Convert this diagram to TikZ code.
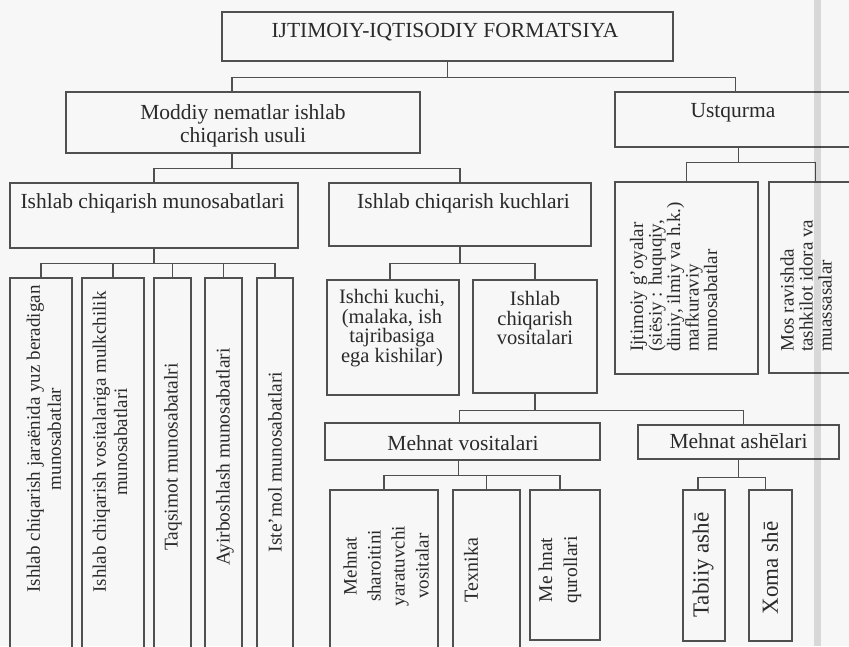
\documentclass[tikz,border=0pt]{standalone}
\usepackage{fontspec}
\setmainfont{Liberation Serif}
\definecolor{ink}{HTML}{2A2A2A}
\definecolor{rule}{HTML}{505050}
\definecolor{paper}{HTML}{F7F7F7}
% box given by its corners (x1,y1) and (x2,y2), in pixel-like units
\newcommand\mkbox[5]{\node[box, minimum width={(#4-#2)*1pt}, minimum height={(#5-#3)*1pt}] (#1) at ({(#2+#4)/2},{(#3+#5)/2}) {};}
\begin{document}
\begin{tikzpicture}[x=1pt,y=-1pt,
  box/.style={draw=rule, line width=1.2pt, inner sep=0pt, rectangle},
  ln/.style={draw=rule, line width=1.1pt},
  txt/.style={text=ink, inner sep=0pt, font=\fontsize{21.5}{23}\selectfont},
  rtxt/.style={txt, rotate=90},
]
\fill[paper] (0,0) rectangle (849,646);
\useasboundingbox (0,0) rectangle (849,646);

% boxes
\mkbox{top}{222}{12}{673}{61}
\mkbox{moddiy}{66}{92}{420}{153}
\mkbox{ustq}{615}{92}{870}{147}
\mkbox{mun}{10}{183}{298}{248}
\mkbox{kuch}{329}{183}{591}{246}
\mkbox{la}{10}{278}{72}{660}
\mkbox{lb}{82}{278}{144}{660}
\mkbox{lc}{154}{278}{191}{660}
\mkbox{ld}{205}{278}{242}{660}
\mkbox{le}{257}{278}{293}{660}
\mkbox{ishchi}{327}{280}{459}{395}
\mkbox{vos}{473}{280}{597}{393}
\mkbox{ga}{615}{182}{758}{374}
\mkbox{gb}{769}{182}{870}{373}
\mkbox{mv}{325}{423}{600}{460}
\mkbox{ma}{638}{425}{839}{459}
\mkbox{ba}{330}{490}{438}{660}
\mkbox{bb}{453}{490}{520}{660}
\mkbox{bc}{530}{490}{600}{640}
\mkbox{ta}{683}{490}{725}{641}
\mkbox{tb}{749}{490}{792}{641}

% connectors
\draw[ln] (top.south) -- ++(0,16) coordinate (jA);
\draw[ln] ([xshift=-11pt]moddiy.north) |- (jA) -| ([xshift=-7pt]ustq.north);
\draw[ln] ([xshift=-11pt]moddiy.south) -- ++(0,15) coordinate (jB);
\draw[ln] (mun.north) |- (jB) -| (kuch.north);
\draw[ln] (mun.south) -- ++(0,15) coordinate (jC);
\draw[ln] (la.north) |- (jC) -| (le.north);
\draw[ln] (lb.north) -- (lb.north |- jC);
\draw[ln] (lc.north) -- (lc.north |- jC);
\draw[ln] (ld.north) -- (ld.north |- jC);
\draw[ln] (kuch.south) -- ++(0,17) coordinate (jD);
\draw[ln] ([xshift=-3pt]ishchi.north) |- (jD) -| (vos.north);
\draw[ln] (vos.south) -- ++(0,17) coordinate (jE);
\draw[ln] ([xshift=-3pt]mv.north) |- (jE) -| ([xshift=5pt]ma.north);
\draw[ln] ([xshift=-4pt]mv.south) -- ++(0,15) coordinate (jF);
\draw[ln] (ba.north) |- (jF) -| ([xshift=-5pt]bc.north);
\draw[ln] (bb.north) -- (bb.north |- jF);
\draw[ln] (ma.south) -- ++(0,18) coordinate (jG);
\draw[ln] ([xshift=-6pt]ta.north) |- (jG) -| ([xshift=-5pt]tb.north);
\draw[ln] ([xshift=-4pt]ustq.south) -- ++(0,15) coordinate (jH);
\draw[ln] (ga.north) |- (jH) -| ([xshift=-4pt]gb.north);

% labels
\node[txt, anchor=base] (ttop) at (445,37) {IJTIMOIY-IQTISODIY FORMATSIYA};
\node[txt, align=center] (tmod) at (243,126) {Moddiy nematlar ishlab\\chiqarish usuli};
\node[txt, anchor=base] (tust) at (733,117) {Ustqurma};
\node[txt, anchor=base] (tmun) at (152.5,208) {Ishlab chiqarish munosabatlari};
\node[txt, anchor=base] (tkuch) at (463.5,208) {Ishlab chiqarish kuchlari};
\node[txt, align=center, font=\fontsize{20.5}{19.5}\selectfont] (tish) at (392,328)
  {Ishchi kuchi,\\(malaka, ish\\tajribasiga\\ega kishilar)};
\node[txt, align=center, font=\fontsize{20.5}{19.5}\selectfont] (tvos) at (535,318)
  {Ishlab\\chiqarish\\vositalari};
\node[txt, anchor=base] (tmv) at (463,450) {Mehnat vositalari};
\node[txt, anchor=base] (tma) at (738.5,448) {Mehnat ashēlari};

\node[rtxt, align=center, font=\fontsize{19}{21}\selectfont] (tla) at (44,439)
  {Ishlab chiqarish jaraënida yuz beradigan\\munosabatlar};
\node[rtxt, align=center, font=\fontsize{19}{21}\selectfont] (tlb) at (110,442)
  {Ishlab chiqarish vositalariga mulkchilik\\munosabatlari};
\node[rtxt, font=\fontsize{19.5}{21}\selectfont] (tlc) at (173,457) {Taqsimot munosabatalri};
\node[rtxt, font=\fontsize{19.5}{21}\selectfont] (tld) at (225,457) {Ayirboshlash munosabatlari};
\node[rtxt, font=\fontsize{19.5}{21}\selectfont] (tle) at (275,462) {Iste’mol munosabatlari};

\node[rtxt, anchor=west, align=left, font=\fontsize{19}{18.5}\selectfont] (tga) at (673.5,352)
  {Ijtimoiy g’oyalar\\(siësiy : huquqiy,\\diniy, ilmiy va h.k.)\\mafkuraviy\\munosabatlar};
\node[rtxt, anchor=west, align=left, font=\fontsize{19}{19}\selectfont] (tgb) at (806,352)
  {Mos ravishda\\tashkilot idora va\\muassasalar};

\node[rtxt, align=center, font=\fontsize{19}{24}\selectfont] (tba) at (386,566)
  {Mehnat\\sharoitini\\yaratuvchi\\vositalar};
\node[rtxt, font=\fontsize{20}{24}\selectfont] (tbb) at (471,570) {Texnika};
\node[rtxt, align=center, font=\fontsize{19.5}{25}\selectfont] (tbc) at (560,570)
  {Me hnat\\qurollari};
\node[rtxt, font=\fontsize{23}{25}\selectfont] (tta) at (703,565) {Tabiiy ashē};
\node[rtxt, font=\fontsize{23}{25}\selectfont] (ttb) at (770,568) {Xoma shē};

% faint vertical band across the sheet
\fill[black, opacity=0.12] (814,0) rectangle (821,646);
\end{tikzpicture}
\end{document}
